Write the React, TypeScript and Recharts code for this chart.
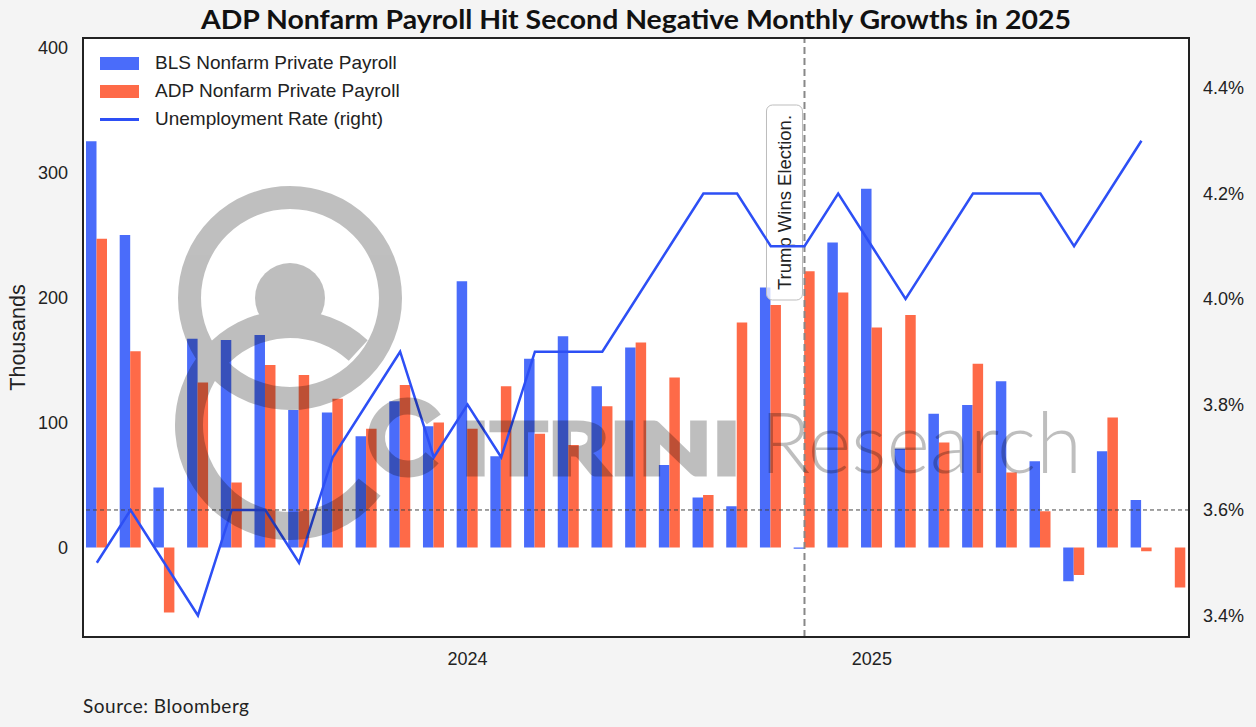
import React from 'react';
import { ComposedChart, Bar, Line, XAxis, YAxis, CartesianGrid, ReferenceLine, Legend } from 'recharts';

// monthly points, Feb 2023 - Oct 2025 (dated at release month)
const months = [
  '2023-02', '2023-03', '2023-04', '2023-05', '2023-06', '2023-07', '2023-08', '2023-09', '2023-10', '2023-11', '2023-12',
  '2024-01', '2024-02', '2024-03', '2024-04', '2024-05', '2024-06', '2024-07', '2024-08', '2024-09', '2024-10', '2024-11',
  '2024-12', '2025-01', '2025-02', '2025-03', '2025-04', '2025-05', '2025-06', '2025-07', '2025-08', '2025-09', '2025-10',
];

// thousands of jobs
const blsPayroll = [
  325, 250, 48, 167, 166, 170, 110, 108, 89, 117, 97,
  213, 73, 151, 169, 129, 160, 66, 40, 33, 208, -1,
  244, 287, 79, 107, 114, 133, 69, -27, 77, 38, null,
];
const adpPayroll = [
  247, 157, -52, 132, 52, 146, 138, 119, 95, 130, 100,
  95, 129, 91, 82, 113, 164, 136, 42, 180, 194, 221,
  204, 176, 186, 84, 147, 60, 29, -22, 104, -3, -32,
];
// percent
const unemploymentRate = [
  3.5, 3.6, 3.5, 3.4, 3.6, 3.6, 3.5, 3.7, 3.8, 3.9, 3.7,
  3.8, 3.7, 3.9, 3.9, 3.9, 4.0, 4.1, 4.2, 4.2, 4.1, 4.1,
  4.2, 4.1, 4.0, 4.1, 4.2, 4.2, 4.2, 4.1, 4.2, 4.3, null,
];

const yearTicks = ['2024-01', '2025-01'];
const payrollTicks = [0, 100, 200, 300, 400];
const rateTicks = [3.4, 3.6, 3.8, 4.0, 4.2, 4.4];
const electionMonth = '2024-11';

const BLUE = '#4a6cfa';
const ORANGE = '#fe6a48';
const LINE_BLUE = '#2d4ff5';
const AXIS_FONT = '"Liberation Sans", Arial, sans-serif';
const TITLE_FONT = 'Lato, "Open Sans", sans-serif';

const data = months.map((month, i) => ({
  month,
  bls: blsPayroll[i],
  adp: adpPayroll[i],
  rate: unemploymentRate[i],
}));

const legendItems = [
  { label: 'BLS Nonfarm Private Payroll', color: BLUE, kind: 'bar' },
  { label: 'ADP Nonfarm Private Payroll', color: ORANGE, kind: 'bar' },
  { label: 'Unemployment Rate (right)', color: LINE_BLUE, kind: 'line' },
];

const ChartLegend = () => (
  <div style={{ fontFamily: AXIS_FONT, fontSize: 19, color: '#222' }}>
    {legendItems.map((item) => (
      <div key={item.label} style={{ display: 'flex', alignItems: 'center', height: 28 }}>
        <div
          style={{
            width: 39,
            height: item.kind === 'bar' ? 13 : 3,
            background: item.color,
            marginRight: 16,
          }}
        />
        <span>{item.label}</span>
      </div>
    ))}
  </div>
);

const ThousandsLabel = (props: any) => {
  const vb = props.viewBox || {};
  const cx = vb.x + 10;
  const cy = vb.y + vb.height / 2;
  return (
    <text
      x={cx}
      y={cy}
      transform={`rotate(-90 ${cx} ${cy})`}
      textAnchor="middle"
      dominantBaseline="central"
      fontFamily={AXIS_FONT}
      fontSize={21.5}
      fill="#222"
    >
      Thousands
    </text>
  );
};

const ElectionLabel = (props: any) => {
  const vb = props.viewBox || {};
  const x0 = vb.x - 38;
  const y0 = vb.y + 67;
  const w = 36;
  const h = 195;
  const cx = x0 + w / 2;
  const cy = y0 + h / 2;
  return (
    <g>
      <rect x={x0} y={y0} width={w} height={h} rx={6} fill="#fff" fillOpacity={0.75} stroke="#bdbdbd" strokeWidth={1} />
      <text
        x={cx}
        y={cy}
        transform={`rotate(-90 ${cx} ${cy})`}
        textAnchor="middle"
        dominantBaseline="central"
        fontFamily={AXIS_FONT}
        fontSize={18.5}
        fill="#222"
      >
        Trump Wins Election.
      </text>
    </g>
  );
};

// arcs of the watermark logo, open on the right
const arcPath = (cx: number, cy: number, r: number, fromDeg: number, toDeg: number) => {
  const a0 = (fromDeg * Math.PI) / 180;
  const a1 = (toDeg * Math.PI) / 180;
  const large = toDeg - fromDeg > 180 ? 1 : 0;
  return `M ${cx + r * Math.cos(a0)} ${cy + r * Math.sin(a0)} A ${r} ${r} 0 ${large} 1 ${cx + r * Math.cos(a1)} ${cy + r * Math.sin(a1)}`;
};

const Overlay = () => (
  <svg
    width={1256}
    height={727}
    style={{ position: 'absolute', left: 0, top: 0, pointerEvents: 'none' }}
  >
    <text
      x={636}
      y={29}
      textAnchor="middle"
      fontFamily={TITLE_FONT}
      fontWeight={700}
      fontSize={26}
      textLength={870}
      lengthAdjust="spacingAndGlyphs"
      fill="#111"
    >
      ADP Nonfarm Payroll Hit Second Negative Monthly Growths in 2025
    </text>
    <text x={83} y={713} fontFamily={TITLE_FONT} fontSize={19} textLength={166} fill="#222">
      Source: Bloomberg
    </text>

    {/* watermark */}
    <g opacity={0.25}>
      <circle cx={290} cy={298} r={100.5} fill="none" stroke="#000" strokeWidth={23} />
      <circle cx={290} cy={298} r={35} fill="#000" />
      <path d={arcPath(290, 425, 101, 38, 312.5)} fill="none" stroke="#000" strokeWidth={28} />
      <path d={arcPath(408, 437.5, 31.5, 40, 325)} fill="none" stroke="#000" strokeWidth={17} />
      <text
        x={461}
        y={475}
        fontFamily={TITLE_FONT}
        fontWeight={900}
        fontSize={72}
        textLength={280}
        lengthAdjust="spacingAndGlyphs"
        fill="#000"
        stroke="#000"
        strokeWidth={3}
        strokeLinejoin="miter"
      >
        ITRINI
      </text>
    </g>
    <g opacity={0.25}>
      <text
        x={760}
        y={473}
        fontFamily={TITLE_FONT}
        fontWeight={300}
        fontSize={85}
        textLength={322}
        lengthAdjust="spacingAndGlyphs"
        fill="#000"
      >
        Research
      </text>
    </g>

    <rect x={83} y={38} width={1106} height={599} fill="none" stroke="#222" strokeWidth={2} />
  </svg>
);

export default function App() {
  return (
    <div style={{ position: 'absolute', left: 0, top: 0, width: 1256, height: 727, background: '#f4f4f4' }}>
      <ComposedChart
        width={1256}
        height={727}
        data={data}
        margin={{ top: 38, right: 7, bottom: 60, left: 8 }}
        barGap={0}
      >
        <CartesianGrid fill="#ffffff" horizontal={false} vertical={false} />
        <XAxis
          dataKey="month"
          ticks={yearTicks}
          tickFormatter={(m: string) => m.slice(0, 4)}
          height={30}
          padding={{ left: -3, right: -3 }}
          axisLine={false}
          tickLine={false}
          tickMargin={9}
          tick={{ fontFamily: AXIS_FONT, fontSize: 18, fill: '#222' }}
        />
        <YAxis
          yAxisId="left"
          width={75}
          domain={[-71.6, 407.6]}
          allowDataOverflow
          ticks={payrollTicks}
          axisLine={false}
          tickLine={false}
          tickMargin={9}
          tick={{ fontFamily: AXIS_FONT, fontSize: 18, fill: '#222' }}
          label={<ThousandsLabel />}
        />
        <YAxis
          yAxisId="right"
          orientation="right"
          width={60}
          domain={[3.3592, 4.4948]}
          allowDataOverflow
          ticks={rateTicks}
          tickFormatter={(v: number) => `${v.toFixed(1)}%`}
          axisLine={false}
          tickLine={false}
          tickMargin={8}
          tick={{ fontFamily: AXIS_FONT, fontSize: 18, fill: '#222' }}
        />
        <Legend
          layout="vertical"
          align="center"
          verticalAlign="middle"
          content={<ChartLegend />}
          wrapperStyle={{ top: 49, left: 100, width: 'auto', height: 'auto' }}
        />
        <Bar yAxisId="left" dataKey="bls" name="BLS Nonfarm Private Payroll" fill={BLUE} barSize={10.5} isAnimationActive={false} />
        <Bar yAxisId="left" dataKey="adp" name="ADP Nonfarm Private Payroll" fill={ORANGE} barSize={10.5} isAnimationActive={false} />
        <ReferenceLine yAxisId="right" y={3.6} stroke="#444" strokeDasharray="4 3" strokeWidth={1} />
        <ReferenceLine
          yAxisId="left"
          x={electionMonth}
          stroke="#888"
          strokeDasharray="7 4"
          strokeWidth={2}
          label={<ElectionLabel />}
        />
        <Line
          yAxisId="right"
          dataKey="rate"
          name="Unemployment Rate (right)"
          stroke={LINE_BLUE}
          strokeWidth={2.5}
          dot={false}
          activeDot={false}
          isAnimationActive={false}
        />
      </ComposedChart>
      <Overlay />
    </div>
  );
}
